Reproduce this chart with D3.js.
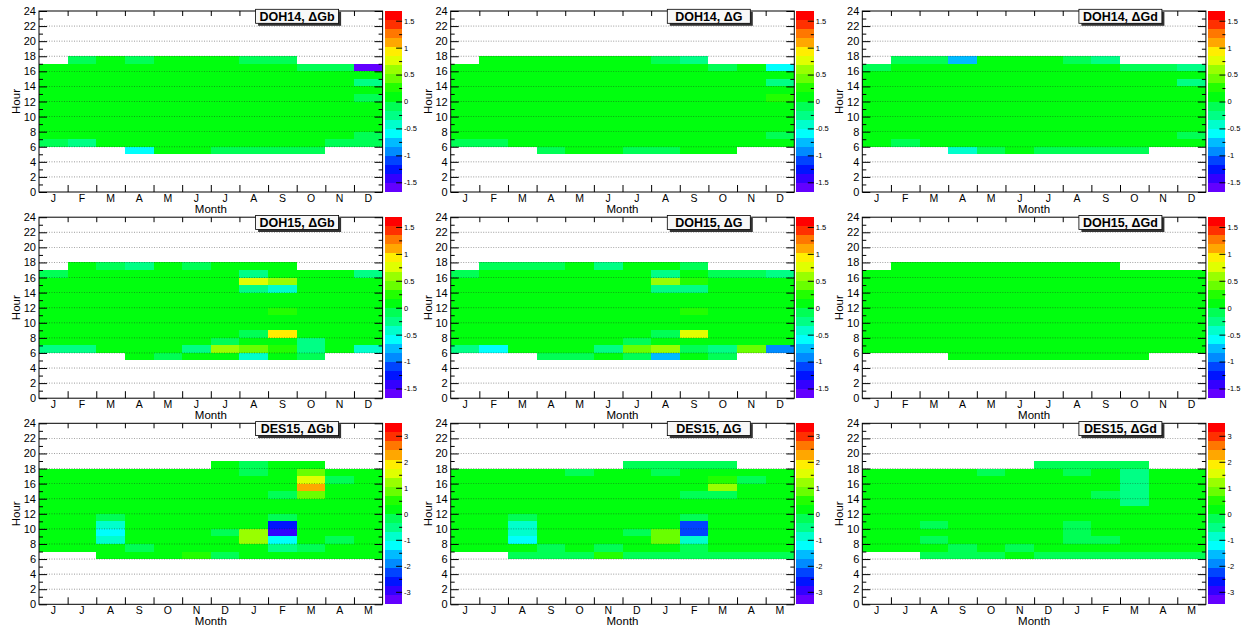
<!DOCTYPE html>
<html><head><meta charset="utf-8">
<script src="https://cdn.jsdelivr.net/npm/d3@7"></script>
<style>
body{margin:0;background:#fff;}
text{font-family:"Liberation Sans",Arial,Helvetica,sans-serif;}
</style></head><body>
<svg id="chart" width="1247" height="627"></svg>
<script>
const _ = null;
const monthsDOH = ["J","F","M","A","M","J","J","A","S","O","N","D"];
const monthsDES = ["J","J","A","S","O","N","D","J","F","M","A","M"];
const hourTickLabels = [0,2,4,6,8,10,12,14,16,18,20,22,24];
const hourMinorTicks = [1,3,5,7,9,11,13,15,17,19,21,23];
const hoursDOH = [17,16,15,14,13,12,11,10,9,8,7,6,5];
const hoursDES = [18,17,16,15,14,13,12,11,10,9,8,7,6];
const cbTicksDOH = [-1.5,-1,-0.5,0,0.5,1,1.5];
const cbTicksDES = [-3,-2,-1,0,1,2,3];
const cbRangeDOH = [-1.68, 1.68];
const cbRangeDES = [-3.48, 3.48];
const paletteColors = ["#6300ff","#3300ff","#0014ff","#0044ff","#008bff","#00bbff","#00fffc","#00ffcc","#00ff85","#00ff55",
                       "#00ff0e","#22ff00","#69ff00","#99ff00","#e0ff00","#ffee00","#ffa700","#ff7700","#ff3000","#ff0000"];

// DOH14, ΔGb (rows: hours 17 -> 5, columns J..D)
const doh14_dGb = [
 [_, -0.1, .05, -0.1, .05, .05, .05, -0.1, -0.1, _, _, _],
 [.05, .05, .05, .05, .05, .05, .05, .05, .05, -0.1, -0.1, -1.6],
 [.05, .05, .05, .05, .05, .05, .05, .05, .05, .05, .05, .05],
 [.05, .05, .05, .05, .05, .05, .05, .05, .05, .05, .05, -0.25],
 [.05, .05, .05, .05, .05, .05, .05, .05, .05, .05, .05, .05],
 [.05, .05, .05, .05, .05, .05, .05, .05, .05, .05, .05, -0.1],
 [.05, .05, .05, .05, .05, .05, .05, .05, .05, .05, .05, .05],
 [.05, .05, .05, .05, .05, .05, .05, .05, .05, .05, .05, .05],
 [.05, .05, .05, .05, .05, .05, .05, .05, .05, .05, .05, .05],
 [.05, .05, .05, .05, .05, .05, .05, .05, .05, .05, .05, .05],
 [.05, .05, .05, .05, .05, .05, .05, .05, .05, .05, .05, -0.1],
 [-0.1, -0.25, .05, .05, .05, .05, .05, .05, .05, .05, -0.1, -0.1],
 [_, _, _, -0.6, .05, .05, -0.1, -0.1, -0.1, -0.1, _, _]
];
// DOH14, ΔG
const doh14_dG = [
 [_, .05, .05, .05, .05, .05, .05, -0.1, -0.25, _, _, _],
 [.05, .05, .05, .05, .05, .05, .05, .05, .05, -0.1, .05, -0.6],
 [.05, .05, .05, .05, .05, .05, .05, .05, .05, .05, .05, .05],
 [.05, .05, .05, .05, .05, .05, .05, .05, .05, .05, .05, -0.25],
 [.05, .05, .05, .05, .05, .05, .05, .05, .05, .05, .05, .05],
 [.05, .05, .05, .05, .05, .05, .05, .05, .05, .05, .05, 0.25],
 [.05, .05, .05, .05, .05, .05, .05, .05, .05, .05, .05, .05],
 [.05, .05, .05, .05, .05, .05, .05, .05, .05, .05, .05, .05],
 [.05, .05, .05, .05, .05, .05, .05, .05, .05, .05, .05, .05],
 [.05, .05, .05, .05, .05, .05, .05, .05, .05, .05, .05, .05],
 [.05, .05, .05, .05, .05, .05, .05, .05, .05, .05, .05, -0.1],
 [-0.1, -0.1, .05, .05, .05, .05, .05, .05, .05, .05, .05, .05],
 [_, _, _, -0.1, .05, .05, -0.1, -0.1, .05, .05, _, _]
];
// DOH14, ΔGd
const doh14_dGd = [
 [_, -0.1, -0.1, -0.75, .05, .05, .05, -0.1, -0.25, _, _, _],
 [-0.1, .05, .05, .05, .05, .05, .05, .05, .05, -0.1, -0.1, -0.25],
 [.05, .05, .05, .05, .05, .05, .05, .05, .05, .05, .05, .05],
 [.05, .05, .05, .05, .05, .05, .05, .05, .05, .05, .05, -0.25],
 [.05, .05, .05, .05, .05, .05, .05, .05, .05, .05, .05, .05],
 [.05, .05, .05, .05, .05, .05, .05, .05, .05, .05, .05, .05],
 [.05, .05, .05, .05, .05, .05, .05, .05, .05, .05, .05, .05],
 [.05, .05, .05, .05, .05, .05, .05, .05, .05, .05, .05, .05],
 [.05, .05, .05, .05, .05, .05, .05, .05, .05, .05, .05, .05],
 [.05, .05, .05, .05, .05, .05, .05, .05, .05, .05, .05, .05],
 [.05, .05, .05, .05, .05, .05, .05, .05, .05, .05, .05, -0.1],
 [.05, -0.1, .05, .05, .05, .05, .05, .05, .05, .05, .05, .05],
 [_, _, _, -0.4, -0.1, .05, -0.1, -0.1, -0.1, -0.1, _, _]
];
// DOH15, ΔGb
const doh15_dGb = [
 [_, .05, -0.1, -0.25, .05, -0.1, .05, .05, .05, _, _, _],
 [-0.1, .05, .05, .05, .05, .05, .05, -0.25, .05, .05, .05, -0.25],
 [.05, .05, .05, .05, .05, .05, .05, 0.8, 0.6, .05, .05, .05],
 [.05, .05, .05, .05, .05, .05, .05, -0.2, -0.4, .05, .05, .05],
 [.05, .05, .05, .05, .05, .05, .05, .05, .05, .05, .05, .05],
 [.05, .05, .05, .05, .05, .05, .05, .05, .05, .05, .05, .05],
 [.05, .05, .05, .05, .05, .05, .05, .05, 0.25, .05, .05, .05],
 [.05, .05, .05, .05, .05, .05, .05, .05, .05, .05, .05, .05],
 [.05, .05, .05, .05, .05, .05, .05, .05, .05, .05, .05, .05],
 [.05, .05, .05, .05, .05, .05, .05, -0.1, 0.95, .05, .05, .05],
 [.05, .05, .05, .05, .05, .05, -0.1, .05, .05, -0.25, .05, .05],
 [-0.25, -0.25, .05, .05, .05, -0.25, 0.6, 0.45, 0.25, -0.25, .05, -0.4],
 [_, _, _, .05, -0.1, .05, .05, -0.45, .05, -0.1, _, _]
];
// DOH15, ΔG
const doh15_dG = [
 [_, -0.1, -0.1, -0.1, .05, -0.25, .05, .05, -0.1, _, _, _],
 [-0.1, .05, .05, .05, .05, .05, .05, -0.25, .05, -0.1, -0.1, -0.25],
 [.05, .05, .05, .05, .05, .05, .05, 0.6, 0.25, .05, .05, .05],
 [.05, .05, .05, .05, .05, .05, .05, -0.25, -0.25, .05, .05, .05],
 [.05, .05, .05, .05, .05, .05, .05, .05, .05, .05, .05, .05],
 [.05, .05, .05, .05, .05, .05, .05, .05, .05, .05, .05, .05],
 [.05, .05, .05, .05, .05, .05, .05, .05, 0.25, .05, .05, .05],
 [.05, .05, .05, .05, .05, .05, .05, .05, .05, .05, .05, .05],
 [.05, .05, .05, .05, .05, .05, .05, .05, .05, .05, .05, .05],
 [.05, .05, .05, .05, .05, .05, .05, -0.1, 0.8, .05, .05, .05],
 [.05, .05, .05, .05, .05, .05, -0.1, .05, .05, .05, .05, .05],
 [-0.25, -0.6, .05, .05, .05, -0.25, 0.4, 0.6, -0.1, -0.25, 0.4, -0.95],
 [_, _, _, -0.1, -0.1, .05, -0.1, -0.75, .05, -0.1, _, _]
];
// DOH15, ΔGd
const doh15_dGd = [
 [_, .05, .05, .05, .05, .05, .05, .05, .05, _, _, _],
 [.05, .05, .05, .05, .05, .05, .05, .05, .05, .05, .05, .05],
 [.05, .05, .05, .05, .05, .05, .05, .05, .05, .05, .05, .05],
 [.05, .05, .05, .05, .05, .05, .05, .05, .05, .05, .05, .05],
 [.05, .05, .05, .05, .05, .05, .05, .05, .05, .05, .05, .05],
 [.05, .05, .05, .05, .05, .05, .05, .05, .05, .05, .05, .05],
 [.05, .05, .05, .05, .05, .05, .05, .05, .05, .05, .05, .05],
 [.05, .05, .05, .05, .05, .05, .05, .05, .05, .05, .05, .05],
 [.05, .05, .05, .05, .05, .05, .05, .05, .05, .05, .05, .05],
 [.05, .05, .05, .05, .05, .05, .05, .05, .05, .05, .05, .05],
 [.05, .05, .05, .05, .05, .05, .05, .05, .05, .05, .05, .05],
 [.05, .05, .05, .05, .05, .05, .05, .05, .05, .05, .05, .05],
 [_, _, _, .05, .05, .05, .05, .05, .05, .05, _, _]
];
// DES15, ΔGb (rows: hours 18 -> 6, columns J J A S O N D J F M A M)
const des15_dGb = [
 [_, _, _, _, _, _, .1, -0.2, .1, .1, _, _],
 [.1, .1, .1, .1, .1, .1, .1, -0.2, .1, 0.85, .1, .1],
 [.1, .1, .1, .1, .1, .1, .1, .1, .1, 1.55, -0.2, .1],
 [.1, .1, .1, .1, .1, .1, .1, .1, .1, 2.2, .1, .1],
 [.1, .1, .1, .1, .1, .1, .1, .1, -0.2, 0.85, .1, .1],
 [.1, .1, .1, .1, .1, .1, .1, .1, .1, .1, .1, .1],
 [.1, .1, .1, .1, .1, .1, .1, .1, .1, .1, .1, .1],
 [.1, .1, -0.2, .1, .1, .1, .1, .1, -0.2, .1, .1, .1],
 [.1, .1, -0.85, .1, .1, .1, .1, .1, -2.6, .1, .1, .1],
 [.1, .1, -1.2, .1, .1, .1, -0.2, 1.2, -2.95, .1, .1, .1],
 [.1, .1, -0.85, .1, .1, .1, .1, 1.2, -1.2, .1, -0.2, .1],
 [.1, .1, .1, -0.2, .1, .1, .1, .1, -0.5, -0.2, .1, .1],
 [_, _, .1, .1, .1, 0.5, -0.2, .1, .1, .1, .1, .1]
];
// DES15, ΔG
const des15_dG = [
 [_, _, _, _, _, _, -0.2, -0.2, -0.2, -0.2, _, _],
 [.1, .1, .1, .1, -0.2, .1, .1, -0.2, .1, .1, .1, .1],
 [.1, .1, .1, .1, .1, .1, .1, .1, .1, 0.5, -0.2, .1],
 [.1, .1, .1, .1, .1, .1, .1, .1, .1, 1.2, .1, .1],
 [.1, .1, .1, .1, .1, .1, .1, .1, -0.2, -0.2, .1, .1],
 [.1, .1, .1, .1, .1, .1, .1, .1, .1, .1, .1, .1],
 [.1, .1, .1, .1, .1, .1, .1, .1, .1, .1, .1, .1],
 [.1, .1, -0.2, .1, .1, .1, .1, .1, -0.2, .1, .1, .1],
 [.1, .1, -0.85, .1, .1, .1, .1, .1, -2.3, .1, .1, .1],
 [.1, .1, -0.85, .1, .1, .1, -0.2, 0.85, -2.3, .1, .1, .1],
 [.1, .1, -1.2, .1, .1, .1, .1, 0.85, -0.85, .1, .1, .1],
 [.1, .1, .1, -0.2, .1, -0.2, .1, .1, -0.2, .1, .1, .1],
 [_, _, -0.2, -0.2, -0.2, 0.5, -0.2, -0.2, -0.2, -0.2, -0.2, -0.2]
];
// DES15, ΔGd
const des15_dGd = [
 [_, _, _, _, _, _, -0.2, -0.2, -0.2, -0.2, _, _],
 [.1, .1, .1, .1, -0.2, .1, .1, -0.2, .1, -0.5, .1, .1],
 [.1, .1, .1, .1, .1, .1, .1, .1, .1, -0.5, .1, .1],
 [.1, .1, .1, .1, .1, .1, .1, .1, .1, -0.5, .1, .1],
 [.1, .1, .1, .1, .1, .1, .1, .1, -0.2, -0.5, .1, .1],
 [.1, .1, .1, .1, .1, .1, .1, .1, .1, -0.5, .1, .1],
 [.1, .1, .1, .1, .1, .1, .1, .1, .1, .1, .1, .1],
 [.1, .1, .1, .1, .1, .1, .1, .1, .1, .1, .1, .1],
 [.1, .1, -0.2, .1, .1, .1, .1, -0.2, .1, .1, .1, .1],
 [.1, .1, .1, .1, .1, .1, .1, -0.2, .1, .1, .1, .1],
 [.1, .1, -0.2, .1, .1, .1, .1, -0.2, -0.2, .1, .1, .1],
 [.1, .1, .1, -0.2, .1, -0.2, .1, .1, .1, .1, .1, .1],
 [_, _, -0.2, -0.2, -0.2, .1, -0.2, -0.2, -0.2, -0.2, -0.2, -0.2]
];

const titles = ["DOH14, \u0394Gb","DOH14, \u0394G","DOH14, \u0394Gd",
                "DOH15, \u0394Gb","DOH15, \u0394G","DOH15, \u0394Gd",
                "DES15, \u0394Gb","DES15, \u0394G","DES15, \u0394Gd"];
const panelValues = [doh14_dGb, doh14_dG, doh14_dGd, doh15_dGb, doh15_dG, doh15_dGd, des15_dGb, des15_dG, des15_dGd];

// layout
const colLefts = [39, 450.7, 862.3];
const rowTops = [11, 217.2, 423.3];
const plotW = 343.6, plotH = 181;
const FONT = '"Liberation Sans",Arial,Helvetica,sans-serif';

const svg = d3.select("#chart");

panelValues.forEach((vals, pi) => {
  const row = Math.floor(pi / 3), col = pi % 3;
  const isDES = row === 2;
  const months = isDES ? monthsDES : monthsDOH;
  const hours = isDES ? hoursDES : hoursDOH;
  const range = isDES ? cbRangeDES : cbRangeDOH;
  const cbTicks = isDES ? cbTicksDES : cbTicksDOH;
  const left = colLefts[col], top = rowTops[row];
  const g = svg.append("g");

  const x = d3.scaleBand().domain(d3.range(12)).range([left, left + plotW]);
  const xl = d3.scaleLinear().domain([0, 12]).range([left, left + plotW]);
  const y = d3.scaleLinear().domain([0, 24]).range([top + plotH, top]);
  const color = d3.scaleQuantize().domain(range).range(paletteColors);

  const cells = [];
  vals.forEach((r, i) => r.forEach((v, m) => { if (v !== null) cells.push({h: hours[i], m, v}); }));

  g.append("g").selectAll("rect").data(cells).join("rect")
    .attr("x", d => x(d.m)).attr("y", d => y(d.h + 1))
    .attr("width", x.bandwidth()).attr("height", d => y(d.h) - y(d.h + 1))
    .attr("fill", d => color(d.v)).attr("shape-rendering", "crispEdges");

  // grid
  g.append("g").selectAll("line").data(hourTickLabels.filter(h => h > 0 && h < 24)).join("line")
    .attr("x1", left).attr("x2", left + plotW)
    .attr("y1", d => y(d)).attr("y2", d => y(d))
    .attr("stroke", "#222").attr("stroke-width", 0.6).attr("stroke-dasharray", "1,1.5").attr("opacity", 0.75);

  // frame
  g.append("rect").attr("x", left).attr("y", top).attr("width", plotW).attr("height", plotH)
    .attr("fill", "none").attr("stroke", "#000").attr("stroke-width", 1);

  const styleAxis = sel => { sel.select(".domain").remove(); sel.attr("font-family", FONT); sel.selectAll("line").attr("stroke", "#000"); };

  // left axis
  g.append("g").attr("transform", `translate(${left},0)`)
    .call(d3.axisLeft(y).tickValues(hourTickLabels).tickSize(-8).tickPadding(3).tickFormat(d3.format("d")))
    .call(styleAxis).attr("font-size", 11);
  g.append("g").attr("transform", `translate(${left},0)`)
    .call(d3.axisLeft(y).tickValues(hourMinorTicks).tickSize(-4).tickFormat(""))
    .call(styleAxis);
  // right axis
  g.append("g").attr("transform", `translate(${left + plotW},0)`)
    .call(d3.axisRight(y).tickValues(hourTickLabels).tickSize(-8).tickFormat(""))
    .call(styleAxis);
  g.append("g").attr("transform", `translate(${left + plotW},0)`)
    .call(d3.axisRight(y).tickValues(hourMinorTicks).tickSize(-4).tickFormat(""))
    .call(styleAxis);
  // bottom ticks at month boundaries
  g.append("g").attr("transform", `translate(0,${top + plotH})`)
    .call(d3.axisBottom(xl).tickValues(d3.range(1, 12)).tickSize(-7).tickFormat(""))
    .call(styleAxis);
  g.append("g").attr("transform", `translate(0,${top})`)
    .call(d3.axisTop(xl).tickValues(d3.range(1, 12)).tickSize(-5).tickFormat(""))
    .call(styleAxis);
  // month labels
  g.append("g").attr("transform", `translate(0,${top + plotH})`)
    .call(d3.axisBottom(x).tickSize(0).tickPadding(2.5).tickFormat(i => months[i]))
    .call(styleAxis).attr("font-size", 10.5);

  // axis titles
  g.append("text").attr("x", left + plotW / 2).attr("y", top + plotH + 20.5)
    .attr("text-anchor", "middle").attr("font-size", 11.5).text("Month");
  g.append("text").attr("transform", `translate(${left - 19},${top + plotH / 2}) rotate(-90)`)
    .attr("text-anchor", "middle").attr("font-size", 11.5).text("Hour");

  // colour bar
  const cbX = left + plotW + 2, cbW = 17.5;
  const cy = d3.scaleLinear().domain(range).range([top + plotH, top]);
  const step = (range[1] - range[0]) / paletteColors.length;
  g.append("g").selectAll("rect").data(paletteColors).join("rect")
    .attr("x", cbX).attr("width", cbW)
    .attr("y", (c, k) => cy(range[0] + (k + 1) * step))
    .attr("height", (c, k) => cy(range[0] + k * step) - cy(range[0] + (k + 1) * step))
    .attr("fill", c => c).attr("shape-rendering", "crispEdges");
  const cbStep = cbTicks[1] - cbTicks[0];
  const minor = d3.range(cbTicks[0] - cbStep / 2, cbTicks[cbTicks.length - 1] + cbStep, cbStep)
    .filter(v => v > range[0] && v < range[1]);
  g.append("g").attr("transform", `translate(${cbX + cbW},0)`)
    .call(d3.axisLeft(cy).tickValues(minor).tickSize(3).tickFormat(""))
    .call(styleAxis);
  g.append("g").attr("transform", `translate(${cbX + cbW},0)`)
    .call(d3.axisRight(cy).tickValues(cbTicks).tickSize(0).tickPadding(2).tickFormat(d => String(d)))
    .call(styleAxis).attr("font-size", 7.5);
  g.append("g").attr("transform", `translate(${cbX + cbW},0)`)
    .call(d3.axisLeft(cy).tickValues(cbTicks).tickSize(6).tickFormat(""))
    .call(styleAxis);

  // title box
  const bw = 83, bh = 14, bx = left + plotW - 127, by = top - 1.7;
  g.append("rect").attr("x", bx + 2.5).attr("y", by + 2.5).attr("width", bw).attr("height", bh).attr("fill", "#333");
  g.append("rect").attr("x", bx).attr("y", by).attr("width", bw).attr("height", bh)
    .attr("fill", "#f8f8f8").attr("stroke", "#000").attr("stroke-width", 0.8);
  g.append("text").attr("x", bx + bw / 2).attr("y", by + 11.2).attr("text-anchor", "middle")
    .attr("font-size", 12.5).attr("font-weight", "bold").text(titles[pi]);
});
</script>
</body></html>
